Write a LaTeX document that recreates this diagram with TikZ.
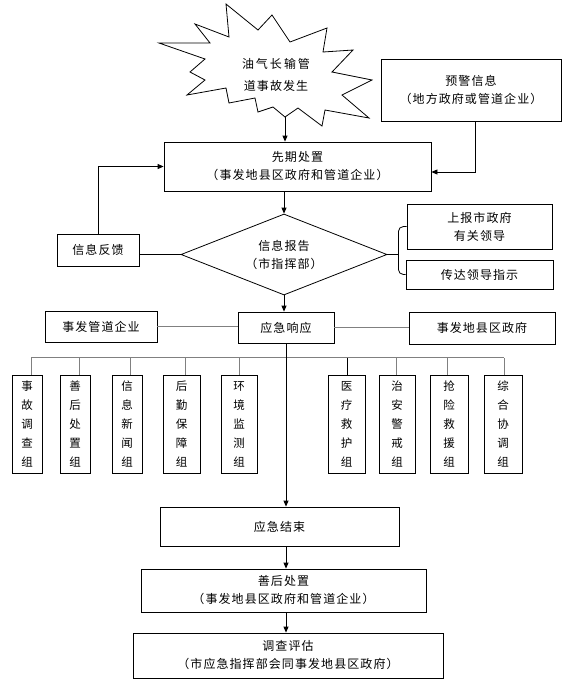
\documentclass[tikz,border=0pt]{standalone}
\usepackage{fontspec}
\newfontfamily\cjk[LetterSpace=9]{Noto Sans CJK SC}
\usetikzlibrary{shapes.geometric,arrows.meta,calc}
\begin{document}
\begin{tikzpicture}[x=1pt,y=-1pt,
  box/.style={draw, line width=0.8pt, inner sep=1pt, align=center, font=\cjk\fontsize{12}{18}\selectfont},
  vbox/.style={box, minimum height=98pt, font=\cjk\fontsize{11.5}{19}\selectfont},
  arr/.style={line width=0.8pt, -{Triangle[length=6pt,width=5pt]}},
  conn/.style={line width=0.8pt},
  gconn/.style={line width=1pt, draw=black!50}]
\fill[white] (0,0) rectangle (573,686);
\useasboundingbox (0,0) rectangle (573,686);

% starburst
\draw[line width=0.8pt, fill=white] (226,4) -- (229,37) -- (195,24) -- (210,43) -- (159,43) -- (205,59) -- (190,72) -- (205,80) -- (187,95) -- (226,88) -- (229,103) -- (255,98) -- (258,112) -- (273,107) -- (285,117) -- (298,108) -- (322,126) -- (325,110) -- (369,118) -- (342,95) -- (372,80) -- (332,72) -- (353,50) -- (323,52) -- (327,28) -- (290,42) -- (272,15) -- (258,30) -- cycle;
\coordinate (burstB) at (285,117);
\node[align=center, font=\cjk\fontsize{12}{22}\selectfont] (burst) at (276,75) {油\,气\,长\,输\,管\\道事故发生};

\node[box, minimum width=180pt, minimum height=62pt] (yujing) at (471,90) {预警信息\\（地方政府或管道企业）};
\node[box, minimum width=267pt, minimum height=49pt] (xianqi) at (297.5,166.5) {先期处置\\（事发地县区政府和管道企业）};

\node[draw, line width=0.8pt, diamond, aspect=2.54, minimum width=206pt, minimum height=81pt, inner sep=0pt, align=center, font=\cjk\fontsize{12}{18}\selectfont] (report) at (284,254.5) {信息报告\\（市指挥部）};

\node[box, minimum width=82pt, minimum height=32pt] (fankui) at (98,250) {信息反馈};
\node[box, minimum width=145pt, minimum height=45pt] (shangbao) at (479.5,226.5) {上报市政府\\有关领导};
\node[box, minimum width=147pt, minimum height=29pt] (chuanda) at (479.5,274.5) {传达领导指示};

\node[box, minimum width=96pt, minimum height=31pt] (yingji) at (286,327.5) {应急响应};
\node[box, minimum width=112pt, minimum height=31pt] (guandao) at (101,326.5) {事发管道企业};
\node[box, minimum width=146pt, minimum height=32pt] (xianqu) at (482,328) {事发地县区政府};

\node[vbox, minimum width=30pt] (g1) at (27,424) {事\\故\\调\\查\\组};
\node[vbox, minimum width=30pt] (g2) at (75,424) {善\\后\\处\\置\\组};
\node[vbox, minimum width=30pt] (g3) at (127,424) {信\\息\\新\\闻\\组};
\node[vbox, minimum width=37pt] (g4) at (181.5,424) {后\\勤\\保\\障\\组};
\node[vbox, minimum width=36pt] (g5) at (239,424) {环\\境\\监\\测\\组};
\node[vbox, minimum width=37pt] (g6) at (346.5,424) {医\\疗\\救\\护\\组};
\node[vbox, minimum width=36pt] (g7) at (397,424) {治\\安\\警\\戒\\组};
\node[vbox, minimum width=38pt] (g8) at (449,424) {抢\\险\\救\\援\\组};
\node[vbox, minimum width=38pt] (g9) at (503,424) {综\\合\\协\\调\\组};

\node[box, minimum width=239pt, minimum height=39pt] (jieshu) at (279.5,526.5) {应急结束};
\node[box, minimum width=285pt, minimum height=43pt] (shanhou) at (283.5,590.5) {善后处置\\（事发地县区政府和管道企业）};
\node[box, minimum width=310pt, minimum height=45pt] (pinggu) at (288,655.5) {调查评估\\（市应急指挥部会同事发地县区政府）};

% connectors
\draw[arr] (burstB) -- (burstB |- xianqi.north);
\draw[arr] ([xshift=4pt]yujing.south) |- ([yshift=-5.5pt]xianqi.east);
\draw[arr] (report.north |- xianqi.south) -- (report.north);
\draw[conn] (report.west) -- (report.west -| fankui.east);
\draw[arr] (fankui.north) |- (xianqi.west);
\coordinate (brc) at ($(report.east)+(11,0)$);
\draw[conn] (report.east) -- (brc);
\draw[conn, rounded corners=5pt] (shangbao.west) -| (brc) |- (chuanda.west);
\draw[arr] (report.south) -- (report.south |- yingji.north);
\draw[gconn] (guandao.east) -- (guandao.east -| yingji.west);
\draw[gconn] (yingji.east) -- (yingji.east -| xianqu.west);

\draw[gconn] ([xshift=4pt]g1.north) -- ++(0,-17) coordinate (b1);
\draw[gconn] ([xshift=4pt]g2.north) -- ++(0,-17);
\draw[gconn] ([xshift=3pt]g3.north) -- ++(0,-17);
\draw[gconn] ([xshift=3.5pt]g4.north) -- ++(0,-17);
\draw[gconn] (g5.north) -- ++(0,-17);
\draw[conn] ([xshift=0.5pt]g6.north) -- ++(0,-17);
\draw[gconn] ([xshift=-1pt]g7.north) -- ++(0,-17);
\draw[gconn] ([xshift=-2pt]g8.north) -- ++(0,-17);
\draw[gconn] ([xshift=1pt]g9.north) -- ++(0,-17) coordinate (b9);
\draw[gconn] (b1) -- (b9);

\draw[arr] (yingji.south) -- (yingji.south |- jieshu.north);
\draw[arr] (yingji.south |- jieshu.south) -- (yingji.south |- shanhou.north);
\draw[arr] (yingji.south |- shanhou.south) -- (yingji.south |- pinggu.north);
\end{tikzpicture}
\end{document}
